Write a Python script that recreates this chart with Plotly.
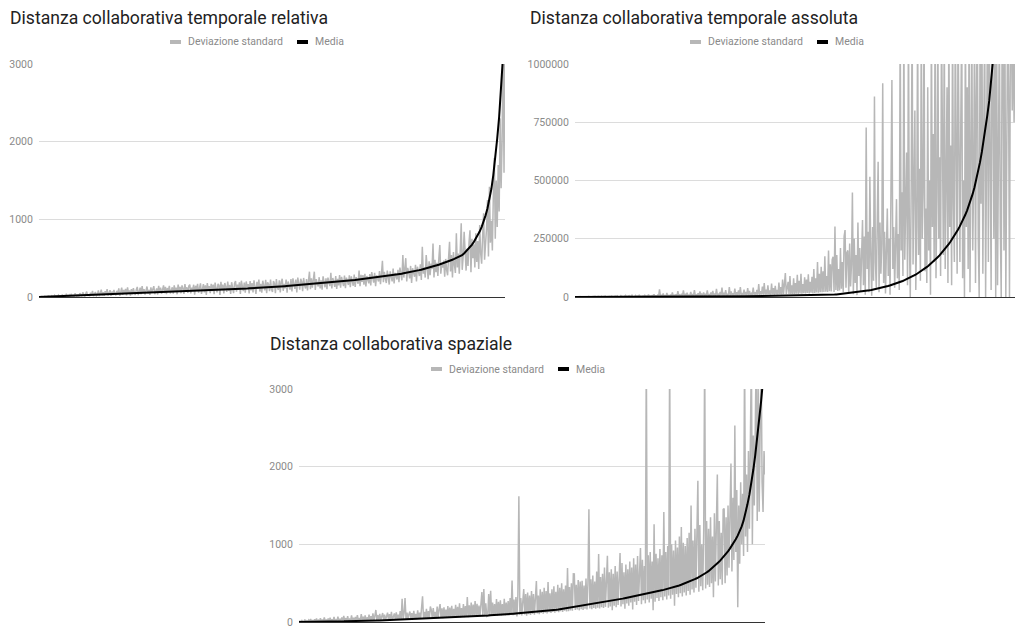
import plotly.graph_objects as go

# ---- Distanza collaborativa temporale relativa ----
rel_mean = [
    0, 1, 2, 2, 3, 4, 5, 5, 6, 7,
    8, 9, 9, 10, 11, 12, 12, 13, 14, 15,
    16, 16, 17, 18, 19, 20, 20, 21, 22, 23,
    24, 25, 26, 27, 28, 29, 30, 31, 31, 32,
    33, 34, 35, 36, 37, 38, 39, 40, 41, 42,
    43, 44, 45, 46, 47, 48, 49, 50, 51, 52,
    53, 54, 55, 56, 57, 58, 59, 60, 61, 62,
    63, 64, 65, 66, 67, 68, 69, 70, 72, 73,
    74, 75, 76, 77, 79, 80, 81, 82, 84, 85,
    86, 88, 89, 90, 92, 93, 94, 96, 97, 99,
    100, 101, 103, 104, 106, 107, 109, 110, 112, 113,
    115, 116, 118, 119, 121, 122, 124, 126, 127, 129,
    130, 132, 134, 135, 137, 139, 140, 142, 144, 146,
    148, 150, 152, 154, 155, 157, 159, 161, 163, 165,
    167, 169, 171, 173, 175, 177, 179, 182, 184, 186,
    188, 191, 193, 195, 198, 200, 203, 205, 208, 210,
    213, 216, 218, 221, 224, 227, 230, 233, 236, 239,
    242, 245, 248, 251, 255, 258, 262, 265, 269, 272,
    276, 280, 284, 288, 292, 296, 300, 305, 309, 314,
    319, 324, 329, 334, 340, 346, 352, 358, 364, 371,
    378, 385, 392, 400, 408, 416, 424, 433, 442, 451,
    460, 470, 480, 490, 500, 512, 524, 540, 560, 585,
    610, 640, 672, 708, 748, 792, 842, 900, 968, 1048,
    1140, 1250, 1390, 1570, 1790, 2040, 2320, 2640, 3000, 3500,
]
rel_sd = [
    1, 6, 3, 10, 2, 5, 12, 4, 8, 2, 15, 6, 3, 18, 9, 4, 22, 7, 12, 5,
    25, 8, 14, 4, 30, 11, 20, 6, 35, 15, 9, 28, 5, 40, 12, 22, 8, 45, 16, 10,
    32, 6, 50, 18, 12, 60, 25, 8, 42, 70, 14, 35, 10, 55, 20, 78, 12, 40, 65, 16,
    28, 85, 12, 50, 95, 20, 62, 15, 75, 30, 100, 18, 55, 88, 14, 70, 25, 92, 45, 20,
    80, 30, 110, 16, 65, 120, 28, 90, 40, 105, 22, 125, 50, 85, 18, 100, 35, 115, 60, 26,
    95, 130, 24, 70, 120, 35, 140, 55, 100, 30, 115, 135, 45, 90, 28, 125, 60, 105, 140, 36,
    75, 110, 32, 145, 60, 120, 40, 100, 150, 50, 130, 38, 115, 80, 142, 45, 105, 125, 42, 150,
    65, 120, 35, 160, 85, 130, 48, 150, 110, 40, 165, 70, 125, 52, 140, 160, 45, 120, 95, 158,
    30, 145, 80, 170, 55, 135, 175, 40, 120, 165, 60, 150, 28, 180, 95, 140, 50, 170, 75, 160,
    35, 185, 110, 60, 170, 150, 28, 195, 90, 160, 45, 180, 130, 65, 200, 80, 155, 40, 190, 120,
    50, 175, 205, 70, 160, 95, 190, 38, 210, 140, 75, 185, 55, 200, 120, 165, 45, 205, 85, 180,
    60, 215, 150, 40, 195, 105, 225, 70, 170, 55, 210, 130, 85, 220, 48, 190, 160, 75, 225, 100,
    65, 205, 175, 50, 230, 120, 90, 215, 60, 195, 235, 80, 170, 110, 225, 55, 200, 145, 95, 230,
    70, 240, 180, 105, 225, 60, 250, 130, 95, 235, 200, 75, 245, 150, 110, 230, 85, 210, 326, 100,
    240, 120, 260, 326, 90, 230, 175, 135, 255, 110, 215, 95, 265, 160, 125, 240, 100, 250, 190, 140,
    313, 110, 245, 170, 130, 270, 105, 235, 150, 283, 120, 260, 185, 140, 275, 115, 250, 200, 155, 280,
    125, 265, 180, 145, 290, 130, 255, 205, 170, 339, 140, 285, 195, 283, 160, 300, 135, 270, 215, 175,
    295, 150, 320, 230, 185, 310, 140, 280, 250, 200, 335, 165, 300, 467, 190, 325, 240, 180, 340, 210,
    160, 330, 270, 200, 365, 175, 310, 280, 225, 350, 190, 380, 300, 215, 540, 250, 360, 500, 200, 375,
    320, 240, 400, 180, 370, 290, 260, 415, 200, 390, 330, 270, 420, 220, 648, 300, 380, 250, 540, 340,
    230, 460, 280, 430, 360, 690, 250, 480, 320, 440, 270, 500, 670, 300, 420, 380, 470, 260, 490, 350,
    280, 505, 712, 330, 540, 250, 580, 420, 310, 820, 380, 560, 300, 600, 948, 350, 520, 840, 450, 340,
    620, 400, 700, 860, 320, 750, 500, 680, 380, 820, 450, 720, 360, 927, 560, 430, 780, 1077, 480, 650,
    880, 1250, 520, 1420, 700, 980, 600, 1300, 1790, 750, 1500, 900, 1700, 1100, 2300, 1400, 2000, 3200, 1600, 3600,
]

# ---- Distanza collaborativa temporale assoluta ----
abs_mean = [
    0, 20, 40, 60, 80, 100, 120, 140, 160, 180,
    200, 220, 240, 260, 280, 300, 320, 340, 360, 380,
    400, 420, 440, 460, 480, 500, 520, 540, 560, 580,
    600, 625, 650, 675, 700, 725, 750, 775, 800, 825,
    850, 875, 900, 925, 950, 975, 1000, 1030, 1060, 1090,
    1120, 1150, 1180, 1210, 1240, 1270, 1300, 1340, 1380, 1420,
    1460, 1500, 1540, 1580, 1620, 1660, 1700, 1750, 1800, 1850,
    1900, 1950, 2000, 2050, 2100, 2160, 2220, 2280, 2340, 2400,
    2460, 2520, 2580, 2640, 2700, 2770, 2840, 2910, 2980, 3050,
    3120, 3190, 3260, 3340, 3420, 3500, 3580, 3660, 3740, 3820,
    3900, 3990, 4080, 4170, 4260, 4350, 4440, 4530, 4620, 4710,
    4800, 4870, 4940, 5010, 5080, 5150, 5220, 5290, 5360, 5430,
    5500, 5570, 5640, 5720, 5800, 5900, 6000, 6150, 6300, 6450,
    6600, 6900, 7200, 7500, 7800, 8100, 8400, 8750, 9100, 9450,
    9800, 10400, 11200, 12000, 12800, 13600, 14400, 15300, 16200, 17100,
    18000, 18880, 19810, 20780, 21800, 22860, 23990, 25160, 26390, 27690,
    29040, 30470, 31960, 33530, 35170, 36890, 38700, 40590, 42580, 44670,
    46860, 49150, 51560, 54090, 56740, 59520, 62440, 65500, 68710, 72070,
    75600, 79310, 83200, 87270, 91550, 96030, 100740, 105680, 110850, 116290,
    121980, 127960, 134230, 140800, 147710, 154950, 162540, 170500, 178860, 187620,
    196820, 206460, 216580, 227190, 238320, 250000, 262250, 275100, 288600, 303000,
    318500, 335000, 352800, 372200, 393400, 416600, 442400, 471200, 503200, 538900,
    578800, 622800, 671400, 724400, 781600, 842600, 907500, 975600, 1046800, 1121100,
    1198500, 1278800, 1361900, 1447700, 1536000, 1628200, 1722600, 1820800, 1922800, 2028600,
]
abs_sd = [
    200, 900, 400, 1500, 300, 700, 1800, 500, 1100, 300, 2000, 800, 400, 1600, 600, 2500, 500, 1200, 700, 2200,
    600, 1500, 3000, 700, 1800, 900, 2800, 600, 1400, 3500, 800, 2000, 1000, 4000, 700, 1700, 2600, 900, 3200, 1100,
    4500, 800, 2200, 1200, 3800, 900, 5000, 1300, 2500, 1000, 6000, 1500, 3000, 1100, 4200, 7000, 1200, 2600, 1600, 5500,
    1300, 3500, 8000, 1500, 2800, 1800, 6500, 1400, 4000, 2000, 9000, 1600, 3300, 2200, 5000, 1800, 7500, 2400, 3600, 1900,
    10000, 2600, 4200, 2000, 6000, 2800, 12000, 2200, 5000, 3000, 8000, 2400, 33000, 3500, 7000, 2600, 15000, 3200, 5500, 2800,
    17000, 3000, 6500, 3400, 10000, 2900, 20000, 3600, 8000, 3200, 12000, 4000, 25000, 3500, 9000, 4200, 14000, 3800, 28000, 4400,
    11000, 4000, 18000, 4600, 7500, 4200, 22000, 5000, 13000, 4500, 30000, 5200, 9500, 4800, 16000, 5500, 24000, 5000, 12000, 5800,
    20000, 5200, 14000, 6000, 28000, 5500, 10000, 6200, 19000, 5800, 26000, 6500, 15000, 6000, 35000, 6800, 12000, 6300, 22000, 7000,
    40000, 6500, 18000, 7200, 30000, 6800, 14000, 7500, 43000, 7000, 24000, 7800, 16000, 7300, 36000, 8000, 20000, 7600, 28000, 8200,
    42000, 7800, 17000, 8500, 32000, 8000, 22000, 8800, 38000, 8400, 26000, 9000, 15000, 8600, 40000, 9300, 21000, 8900, 30000, 9600,
    55000, 9200, 25000, 10000, 45000, 9500, 60000, 10300, 32000, 9800, 50000, 10600, 28000, 10100, 58000, 11000, 38000, 10400, 48000, 11300,
    30000, 10700, 62000, 11600, 42000, 11000, 75000, 12000, 55000, 103000, 12300, 40000, 65000, 12600, 90000, 13000, 50000, 12900, 80000, 13400,
    60000, 14000, 95000, 13600, 70000, 15000, 100000, 14200, 55000, 16000, 85000, 14800, 75000, 17000, 98000, 15500, 65000, 18000, 87000, 16500,
    120000, 17500, 80000, 19000, 150000, 18500, 100000, 21000, 130000, 20000, 110000, 22000, 175000, 23000, 90000, 21500, 200000, 25000, 140000, 24000,
    160000, 173000, 22000, 302000, 30000, 180000, 26000, 120000, 28000, 210000, 35000, 150000, 20000, 260000, 287000, 40000, 190000, 200000, 15000, 230000,
    45000, 140000, 448000, 12000, 250000, 60000, 180000, 8000, 320000, 90000, 210000, 25000, 150000, 330000, 50000, 260000, 10000, 727000, 120000, 280000,
    20000, 516000, 180000, 5000, 300000, 70000, 860000, 150000, 40000, 250000, 580000, 20000, 320000, 100000, 230000, 917000, 60000, 280000, 15000, 200000,
    380000, 90000, 250000, 10000, 350000, 931000, 120000, 300000, 40000, 220000, 420000, 80000, 270000, 30000, 1200000, 200000, 450000, 90000, 1200000, 160000,
    350000, 620000, 50000, 1200000, 250000, 0, 480000, 1200000, 140000, 400000, 800000, 30000, 300000, 1200000, 180000, 550000, 70000, 1200000, 250000, 450000,
    1200000, 110000, 380000, 60000, 900000, 200000, 500000, 10000, 1200000, 300000, 700000, 150000, 1200000, 80000, 450000, 1200000, 250000, 600000, 90000, 1200000,
    350000, 180000, 1200000, 120000, 500000, 900000, 60000, 1200000, 300000, 650000, 50000, 1200000, 400000, 150000, 1200000, 550000, 100000, 1200000, 350000, 150000,
    750000, 1200000, 80000, 500000, 0, 1200000, 300000, 900000, 120000, 1200000, 20000, 600000, 1200000, 200000, 500000, 1200000, 60000, 850000, 1200000, 250000,
    0, 1200000, 400000, 1200000, 100000, 700000, 1200000, 0, 550000, 1200000, 150000, 1200000, 600000, 30000, 1200000, 900000, 250000, 1200000, 0, 1200000,
    50000, 800000, 1200000, 300000, 0, 1200000, 1100000, 200000, 1200000, 0, 700000, 1200000, 900000, 0, 1200000, 1200000, 800000, 1200000, 750000, 1000000,
]

# ---- Distanza collaborativa spaziale ----
spa_mean = [
    0, 0, 1, 1, 1, 2, 2, 2, 3, 3,
    4, 4, 4, 5, 5, 6, 6, 6, 7, 7,
    8, 8, 9, 9, 10, 10, 11, 11, 12, 12,
    13, 13, 14, 15, 15, 16, 17, 17, 18, 19,
    19, 20, 21, 22, 23, 24, 25, 25, 26, 27,
    28, 29, 30, 31, 32, 33, 34, 35, 36, 37,
    38, 39, 40, 41, 42, 43, 44, 45, 46, 47,
    49, 50, 51, 52, 53, 55, 56, 57, 58, 60,
    61, 62, 64, 65, 66, 68, 69, 70, 72, 73,
    75, 76, 78, 79, 81, 82, 84, 85, 87, 88,
    90, 92, 93, 95, 97, 98, 100, 102, 104, 106,
    107, 109, 111, 113, 115, 117, 119, 121, 123, 125,
    127, 130, 132, 134, 137, 139, 141, 144, 146, 149,
    153, 156, 159, 162, 166, 169, 173, 176, 180, 184,
    188, 192, 196, 200, 204, 208, 212, 216, 220, 224,
    228, 232, 236, 240, 245, 249, 253, 258, 262, 267,
    271, 276, 281, 286, 291, 296, 301, 306, 311, 317,
    320, 325, 330, 335, 340, 345, 350, 355, 360, 366,
    372, 378, 384, 390, 396, 402, 408, 414, 420, 426,
    432, 439, 446, 454, 462, 470, 479, 488, 497, 507,
    517, 528, 539, 551, 563, 576, 590, 605, 620, 637,
    655, 675, 696, 718, 741, 765, 790, 817, 846, 877,
    910, 945, 982, 1022, 1065, 1112, 1165, 1228, 1305, 1400,
    1515, 1640, 1790, 1960, 2150, 2360, 2590, 2840, 3120, 3500,
]
spa_sd = [
    1, 12, 3, 20, 2, 8, 30, 4, 15, 2, 25, 6, 40, 3, 18, 5, 35, 4, 45, 6,
    22, 5, 50, 8, 30, 6, 60, 9, 25, 7, 45, 10, 55, 8, 35, 11, 65, 9, 28, 12,
    70, 10, 40, 13, 60, 11, 80, 14, 50, 12, 75, 15, 35, 13, 85, 16, 55, 14, 65, 17,
    90, 15, 50, 18, 100, 16, 70, 19, 85, 17, 60, 20, 95, 18, 75, 21, 110, 19, 80, 155,
    22, 90, 20, 105, 23, 70, 115, 21, 95, 24, 80, 120, 25, 100, 23, 130, 26, 85, 110, 27,
    125, 29, 95, 28, 140, 31, 300, 30, 110, 309, 32, 120, 34, 100, 135, 33, 115, 36, 145, 35,
    105, 38, 150, 40, 120, 39, 160, 330, 41, 130, 44, 170, 42, 140, 46, 200, 155, 45, 180, 48,
    130, 47, 200, 50, 165, 230, 52, 175, 49, 190, 54, 160, 56, 206, 53, 185, 58, 210, 55, 170,
    60, 220, 57, 195, 62, 240, 59, 180, 64, 230, 61, 205, 66, 322, 63, 215, 68, 250, 65, 225,
    70, 270, 67, 235, 72, 210, 74, 260, 386, 71, 425, 76, 240, 73, 78, 360, 75, 403, 80, 250,
    77, 230, 82, 296, 79, 260, 84, 280, 81, 230, 86, 300, 83, 250, 88, 270, 85, 310, 90, 533,
    87, 290, 92, 320, 70, 350, 1620, 95, 310, 85, 330, 425, 98, 360, 80, 380, 100, 340, 90, 400,
    105, 360, 95, 380, 528, 110, 340, 100, 420, 115, 390, 105, 440, 120, 400, 110, 515, 125, 370, 115,
    420, 130, 460, 120, 390, 135, 480, 125, 440, 140, 500, 130, 420, 145, 470, 135, 695, 140, 450, 150,
    500, 145, 620, 618, 155, 480, 160, 540, 150, 520, 165, 532, 155, 470, 170, 560, 160, 500, 1450, 175,
    550, 165, 600, 180, 520, 170, 650, 185, 875, 175, 580, 190, 620, 180, 700, 195, 560, 853, 185, 640,
    200, 680, 150, 620, 210, 720, 190, 650, 220, 700, 888, 200, 760, 230, 640, 170, 740, 240, 680, 210,
    780, 250, 700, 160, 820, 260, 740, 220, 850, 270, 760, 953, 230, 800, 280, 720, 240, 3500, 290, 860,
    250, 900, 300, 780, 150, 1260, 260, 880, 310, 820, 270, 940, 320, 860, 280, 1415, 330, 900, 290, 980,
    340, 3500, 300, 1000, 350, 920, 210, 1050, 360, 960, 320, 1100, 370, 1223, 330, 1020, 380, 980, 340, 1080,
    400, 1150, 350, 1500, 420, 1050, 380, 1200, 440, 1100, 1820, 390, 1250, 460, 1000, 410, 1180, 3500, 430, 1300,
    480, 1200, 450, 1350, 500, 1100, 320, 1400, 520, 1250, 1900, 470, 1300, 550, 1150, 480, 1450, 1460, 500, 1350,
    600, 1500, 700, 1400, 2040, 650, 1600, 800, 2530, 900, 1700, 190, 1500, 750, 1800, 1000, 1650, 850, 3500, 1100,
    1900, 900, 2200, 1200, 2600, 3500, 1000, 2400, 1500, 2800, 3500, 1300, 3000, 1420, 2500, 3500, 1800, 1415, 2200, 1900,
]

assert len(rel_sd) == len(abs_sd) == len(spa_sd) == 480
assert len(rel_mean) == len(abs_mean) == len(spa_mean) == 240

W, H = 1015, 628
FONT = "Roboto"
SD_COLOR = "#b7b7b7"
MEAN_COLOR = "#000000"


def px(x):
    return x / W


def py(y):
    return 1 - y / H


charts = [
    dict(title="Distanza collaborativa temporale relativa", sd=rel_sd, mean=rel_mean,
         xd=(39, 505), yd=(64, 297), ymax=3000, dtick=1000,
         title_pos=(8, 18), legend_y=42, legend_x=170),
    dict(title="Distanza collaborativa temporale assoluta", sd=abs_sd, mean=abs_mean,
         xd=(575, 1015), yd=(64, 297), ymax=1000000, dtick=250000,
         title_pos=(528, 18), legend_y=42, legend_x=690),
    dict(title="Distanza collaborativa spaziale", sd=spa_sd, mean=spa_mean,
         xd=(299, 765), yd=(389, 622), ymax=3000, dtick=1000,
         title_pos=(268, 344), legend_y=369, legend_x=431),
]

fig = go.Figure()
annotations = []
shapes = []
layout_axes = {}

for k, c in enumerate(charts, start=1):
    n_sd = len(c["sd"])
    n_mean = len(c["mean"])
    span = n_sd - 1
    xs_sd = list(range(n_sd))
    xs_mean = [i * span / (n_mean - 1) for i in range(n_mean)]
    xa = "x" if k == 1 else f"x{k}"
    ya = "y" if k == 1 else f"y{k}"
    fig.add_trace(go.Scatter(x=xs_sd, y=c["sd"], mode="lines", name="Deviazione standard",
                             line=dict(color=SD_COLOR, width=1.5), xaxis=xa, yaxis=ya,
                             showlegend=False, hoverinfo="skip"))
    fig.add_trace(go.Scatter(x=xs_mean, y=c["mean"], mode="lines", name="Media",
                             line=dict(color=MEAN_COLOR, width=2), xaxis=xa, yaxis=ya,
                             showlegend=False, hoverinfo="skip"))

    xkey = "xaxis" if k == 1 else f"xaxis{k}"
    ykey = "yaxis" if k == 1 else f"yaxis{k}"
    layout_axes[xkey] = dict(
        domain=[px(c["xd"][0]), px(c["xd"][1])], anchor=ya, automargin=False,
        range=[0, span], showgrid=False, showticklabels=False,
        zeroline=False, showline=True, linecolor="#333333", linewidth=1, ticks="",
    )
    tickvals = list(range(0, c["ymax"] + 1, c["dtick"]))
    layout_axes[ykey] = dict(
        domain=[py(c["yd"][1]), py(c["yd"][0])], anchor=xa, automargin=False,
        range=[0, c["ymax"]], tickvals=tickvals, ticktext=[str(v) for v in tickvals],
        showgrid=True, gridcolor="#dcdcdc", gridwidth=1, zeroline=False, showline=False,
        ticks="outside", ticklen=3, tickcolor="rgba(0,0,0,0)", ticklabeloverflow="allow",
        tickfont=dict(family=FONT, size=10.5, color="#8a8a8a"),
    )

    # chart title
    tx, ty = c["title_pos"]
    annotations.append(dict(text=c["title"], xref="paper", yref="paper", x=px(tx), y=py(ty),
                            xanchor="left", yanchor="middle", showarrow=False,
                            font=dict(family=FONT, size=17.6, color="#222222")))

    # legend: short swatches and labels
    lx, ly = c["legend_x"], c["legend_y"]
    items = [(SD_COLOR, "Deviazione standard", 0), (MEAN_COLOR, "Media", 127)]
    for color, label, off in items:
        x0 = lx + off
        shapes.append(dict(type="line", xref="paper", yref="paper",
                           x0=px(x0), x1=px(x0 + 11), y0=py(ly), y1=py(ly),
                           line=dict(color=color, width=4)))
        annotations.append(dict(text=label, xref="paper", yref="paper", x=px(x0 + 16), y=py(ly),
                                xanchor="left", yanchor="middle", showarrow=False,
                                font=dict(family=FONT, size=10.5, color="#8a8a8a")))

fig.update_layout(
    width=W, height=H, margin=dict(l=0, r=0, t=0, b=0),
    paper_bgcolor="white", plot_bgcolor="white",
    font=dict(family=FONT),
    annotations=annotations, shapes=shapes, showlegend=False,
    **layout_axes,
)

fig.write_html("out.html")
